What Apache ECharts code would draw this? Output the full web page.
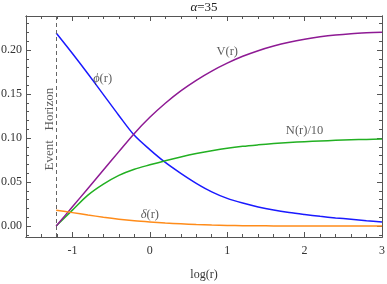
<!DOCTYPE html>
<html><head><meta charset="utf-8">
<script src="https://cdn.jsdelivr.net/npm/echarts@6/dist/echarts.min.js"></script>
<style>html,body{margin:0;padding:0;background:#fff}#c{width:387px;height:284px}</style>
</head><body><div id="c"></div>
<script>
// ---- data ----
const logR  = [-1.21, -1.0, -0.8, -0.6, -0.4, -0.2, 0, 0.2, 0.4, 0.6, 0.8, 1.0, 1.2, 1.4, 1.6, 1.8, 2.0, 2.2, 2.4, 2.6, 2.8, 3.0];
const phi   = [0.2193, 0.196, 0.173, 0.1493, 0.1256, 0.1030, 0.0868, 0.0722, 0.0598, 0.0485, 0.0388, 0.0314, 0.0261, 0.0217, 0.0182, 0.0154, 0.0131, 0.0110, 0.0092, 0.0076, 0.0060, 0.0046];
const Vr    = [0, 0.0218, 0.0427, 0.0636, 0.0845, 0.1052, 0.1235, 0.1395, 0.1535, 0.1655, 0.1760, 0.1850, 0.1928, 0.1992, 0.2045, 0.2088, 0.2122, 0.2149, 0.2170, 0.2185, 0.2195, 0.2202];
const N10   = [0, 0.0180, 0.0350, 0.0475, 0.0575, 0.0645, 0.0695, 0.0742, 0.0785, 0.0823, 0.0855, 0.0883, 0.0905, 0.0922, 0.0937, 0.0949, 0.0958, 0.0966, 0.0973, 0.0979, 0.0984, 0.0989];
const delta = [0.0180, 0.0152, 0.0125, 0.0100, 0.0078, 0.0060, 0.0046, 0.0034, 0.0025, 0.0017, 0.0011, 0.0007, 0.0004, 0.0002, 0.0001, 0.00005, 0, 0, 0, 0, 0, 0];
const horizonLogR = -1.21;
const xMajorTicks = [-1, 0, 1, 2, 3];
const xMinorTicks = [-1.6,-1.4,-1.2,-1.0,-0.8,-0.6,-0.4,-0.2,0,0.2,0.4,0.6,0.8,1.0,1.2,1.4,1.6,1.8,2.0,2.2,2.4,2.6,2.8,3.0];
const yMajorTicks = [0, 0.05, 0.10, 0.15, 0.20];
const yMinorTicks = [-0.01,0,0.01,0.02,0.03,0.04,0.05,0.06,0.07,0.08,0.09,0.10,0.11,0.12,0.13,0.14,0.15,0.16,0.17,0.18,0.19,0.20,0.21,0.22,0.23];
const curveLabels = [
  {text: '{i|ϕ}(r)',  at: [-0.61, 0.167]},
  {text: 'V(r)',      at: [1.0, 0.198]},
  {text: 'N(r)/10',   at: [2.0, 0.108]},
  {text: '{i|δ}(r)',  at: [0.0, 0.0125]}
];
const horizonLabel = {text: 'Event   Horizon', at: [-1.29, 0.110]};
const title = '{i|α}=35';
const xName = 'log(r)';

// ---- chart ----
const FONT = '"Liberation Serif", "DejaVu Serif", serif';
const FRAME = '#555';
const TXT = '#333';
const xRange = {min: -1.6, max: 3.0};
const yRange = {min: -0.0125, max: 0.2386};
const italic = {i: {fontStyle: 'italic', fontFamily: FONT, fontSize: 12.5, color: TXT}};

function xAx(pos, ticks, len, labels) {
  return Object.assign({
    type: 'value', position: pos, gridIndex: 0,
    axisLine: {show: true, onZero: false, lineStyle: {color: FRAME, width: 1}},
    axisTick: {show: true, inside: true, length: len, customValues: ticks, lineStyle: {color: FRAME, width: 1}},
    axisLabel: labels ? {show: true, customValues: xMajorTicks, margin: 8, color: TXT, fontFamily: FONT, fontSize: 12,
                         formatter: v => String(Math.round(v))} : {show: false},
    splitLine: {show: false}
  }, xRange);
}
function yAx(pos, ticks, len, labels) {
  return Object.assign({
    type: 'value', position: pos, gridIndex: 0,
    axisLine: {show: true, onZero: false, lineStyle: {color: FRAME, width: 1}},
    axisTick: {show: true, inside: true, length: len, customValues: ticks, lineStyle: {color: FRAME, width: 1}},
    axisLabel: labels ? {show: true, customValues: yMajorTicks, margin: 4, color: TXT, fontFamily: FONT, fontSize: 12,
                         formatter: v => v.toFixed(2)} : {show: false},
    splitLine: {show: false}
  }, yRange);
}

function pts(ys) { return logR.map((x, i) => [x, ys[i]]); }
function line(name, ys, color, z) {
  return {name, type: 'line', xAxisIndex: 0, yAxisIndex: 0, data: pts(ys), smooth: 0.3,
          showSymbol: false, symbol: 'none', z,
          lineStyle: {color, width: 1.5}, itemStyle: {color}, animation: false};
}

const chart = echarts.init(document.getElementById('c'), null, {renderer: 'canvas'});
chart.setOption({
  animation: false,
  backgroundColor: '#fff',
  title: {text: title, left: 204, top: 1, padding: 0, textAlign: 'center',
          textStyle: {fontFamily: FONT, fontSize: 13, fontWeight: 'normal', color: '#222',
                      rich: {i: {fontStyle: 'italic', fontFamily: FONT, fontSize: 13, color: '#222'}}}},
  grid: {left: 26, right: 5, top: 16, bottom: 47, containLabel: false, outerBoundsMode: 'none'},
  xAxis: [
    Object.assign(xAx('bottom', xMajorTicks, 5, true), {name: xName, nameLocation: 'middle', nameGap: 32,
      nameTextStyle: {fontFamily: FONT, fontSize: 12, color: TXT}}),
    xAx('bottom', xMinorTicks, 3, false),
    xAx('top', xMajorTicks, 5, false),
    xAx('top', xMinorTicks, 3, false)
  ],
  yAxis: [
    yAx('left', yMajorTicks, 5, true),
    yAx('left', yMinorTicks, 3, false),
    yAx('right', yMajorTicks, 5, false),
    yAx('right', yMinorTicks, 3, false)
  ],
  series: [
    Object.assign(line('phi', phi, '#1a1aff', 3), {
      markLine: {silent: true, symbol: ['none', 'none'], label: {show: false},
                 lineStyle: {color: '#666', type: [4, 3], width: 1},
                 data: [{xAxis: horizonLogR}]}
    }),
    line('N10', N10, '#22b022', 4),
    line('V', Vr, '#8e1a94', 5),
    line('delta', delta, '#ff8c1a', 6),
    {
      type: 'scatter', xAxisIndex: 0, yAxisIndex: 0, symbolSize: 0, z: 10, silent: true,
      data: curveLabels.map(l => ({name: l.text, value: l.at})),
      label: {show: true, position: 'inside', formatter: p => p.name,
              fontFamily: FONT, fontSize: 12.5, color: TXT, rich: italic}
    },
    {
      type: 'scatter', xAxisIndex: 0, yAxisIndex: 0, symbolSize: 0, z: 10, silent: true,
      data: [{name: horizonLabel.text, value: horizonLabel.at}],
      label: {show: true, position: 'inside', rotate: 90, formatter: p => p.name,
              fontFamily: FONT, fontSize: 13, color: TXT}
    }
  ]
});
</script>
</body></html>
